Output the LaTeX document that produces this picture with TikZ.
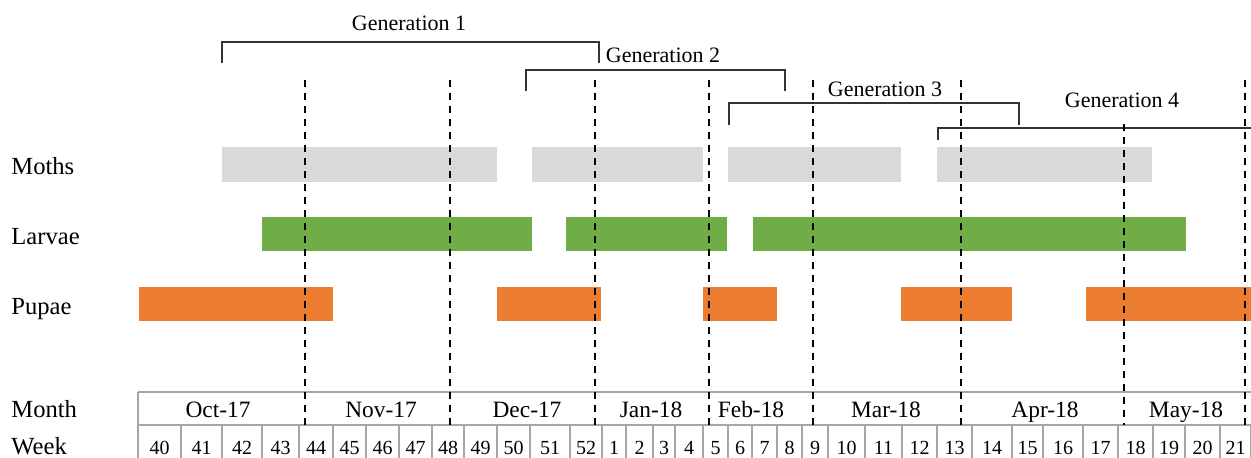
\documentclass[tikz,border=0pt]{standalone}
\usepackage{fontspec}
\setmainfont{Liberation Serif}
\usetikzlibrary{positioning}
\definecolor{mothgray}{HTML}{D9D9D9}
\definecolor{larvagreen}{HTML}{70AD47}
\definecolor{pupaorange}{HTML}{ED7D31}

\begin{document}
\begin{tikzpicture}[x=0.5pt, y=-0.5pt,
    rowlbl/.style={anchor=base west, inner sep=0pt, font=\fontsize{12.3}{14}\selectfont},
    monthlbl/.style={anchor=base, inner sep=0pt, font=\fontsize{11.7}{14}\selectfont},
    weeklbl/.style={anchor=base, inner sep=0pt, font=\fontsize{10}{12}\selectfont},
    genlbl/.style={anchor=base, inner sep=0pt, font=\fontsize{11}{13}\selectfont},
    moth/.style={fill=mothgray},
    larva/.style={fill=larvagreen},
    pupa/.style={fill=pupaorange},
    bracket/.style={line width=0.7pt, black!80},
    divider/.style={line width=1.1pt, dash pattern=on 3.5pt off 3pt},
    tabline/.style={gray!70, line width=0.6pt}]
    \useasboundingbox (0,0) rectangle (1251,458);

    % row labels
    \node[rowlbl] (moths) at (11,175) {Moths};
    \node[rowlbl] (larvae) at (11,245) {Larvae};
    \node[rowlbl] (pupae) at (11,315) {Pupae};
    \node[rowlbl] (month) at (11,418) {Month};
    \node[rowlbl] (week) at (11,454) {Week};

    % bars
    \foreach \a/\b in {222/497, 532/703, 728/901, 937/1152}
        \fill[moth] (\a,147) rectangle (\b,182);
    \foreach \a/\b in {262/532, 566/727, 753/1186}
        \fill[larva] (\a,217) rectangle (\b,251);
    \foreach \a/\b in {139/333, 497/601, 703/777, 901/1012, 1086/1251}
        \fill[pupa] (\a,287) rectangle (\b,321);

    % generations
    \draw[bracket] (222,63) |- (599,42) -- (599,63);
    \node[genlbl] (gen1) at (409,31) {Generation 1};
    \draw[bracket] (526,91) |- (785,70) -- (785,91);
    \node[genlbl] (gen2) at (663,63) {Generation 2};
    \draw[bracket] (729,125) |- (1019,103) -- (1019,125);
    \node[genlbl] (gen3) at (885,97) {Generation 3};
    \draw[bracket] (938,140) |- (1251,128);
    \node[genlbl] (gen4) at (1122,108) {Generation 4};

    % table
    \draw[tabline, line width=1.2pt] (138,392) -- (1251,392);
    \draw[tabline] (138,392) -- (138,458);
    \draw[tabline] (138,425) -- (1251,425);
    \foreach \a/\b/\w in {138/181/40, 181/222/41, 222/262/42, 262/299/43, 299/333/44,
        333/366/45, 366/399/46, 399/432/47, 432/464/48, 464/497/49, 497/530/50,
        530/570/51, 570/602/52, 602/626/1, 626/653/2, 653/675/3, 675/703/4,
        703/728/5, 728/752/6, 752/777/7, 777/802/8, 802/828/9, 828/865/10,
        865/902/11, 902/937/12, 937/972/13, 972/1012/14, 1012/1043/15,
        1043/1083/16, 1083/1118/17, 1118/1153/18, 1153/1185/19, 1185/1220/20,
        1220/1251/21}{
        \node[weeklbl] (w\w) at ({(\a+\b)/2},454) {\w};
        \draw[tabline] (\b,425) -- (\b,458);
    }
    \foreach \x/\m/\n in {218/Oct-17/oct, 381/Nov-17/nov, 527/Dec-17/dec, 651/Jan-18/jan,
        751/Feb-18/feb, 886/Mar-18/mar, 1045/Apr-18/apr, 1186/May-18/may}
        \node[monthlbl] (\n) at (\x,418) {\m};

    % month dividers
    \foreach \x in {305, 450, 595, 709, 813, 961, 1245}
        \draw[divider] (\x,80) -- (\x,425);
    \draw[divider] (1124,124) -- (1124,425);
\end{tikzpicture}
\end{document}
